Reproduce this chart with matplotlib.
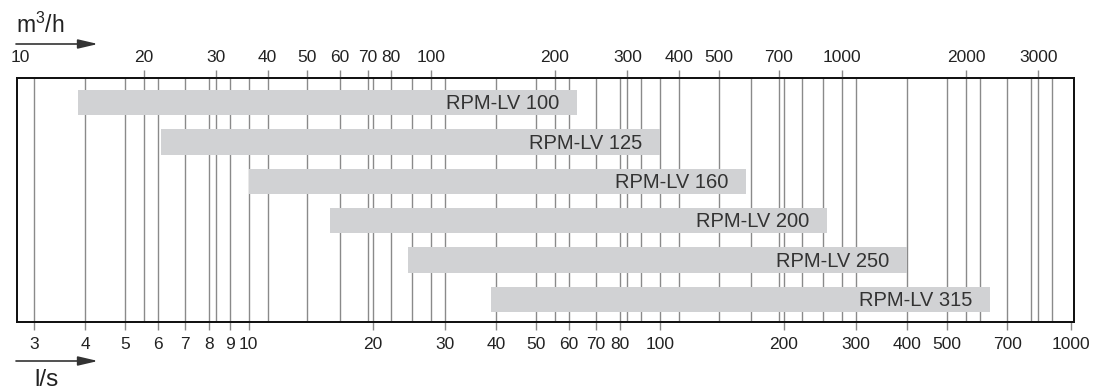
import matplotlib
matplotlib.use("Agg")
import matplotlib.pyplot as plt
from matplotlib.patches import FancyArrowPatch
from matplotlib.ticker import FixedLocator, NullLocator

plt.rcParams['font.family'] = ['Liberation Sans', 'DejaVu Sans']
plt.rcParams['mathtext.fontset'] = 'custom'
plt.rcParams['mathtext.rm'] = 'Liberation Sans'
plt.rcParams['mathtext.it'] = 'Liberation Sans'

# flow ranges per fan model, in l/s
models = ['RPM-LV 100', 'RPM-LV 125', 'RPM-LV 160', 'RPM-LV 200', 'RPM-LV 250', 'RPM-LV 315']
flow_min = [3.85, 6.1, 10.0, 15.8, 24.4, 38.9]
flow_max = [63, 100, 162, 255, 400, 635]

# bottom axis (l/s)
ls_labels = [3, 4, 5, 6, 7, 8, 9, 10, 20, 30, 40, 50, 60, 70, 80, 100, 200, 300, 400, 500, 700, 1000]
ls_grid = [3, 4, 5, 6, 7, 8, 9, 10, 20, 30, 40, 50, 60, 70, 80, 90, 100,
           200, 300, 400, 500, 600, 700, 800, 900]
# top axis (m3/h)
m3h_labels = [10, 20, 30, 40, 50, 60, 70, 80, 100, 200, 300, 400, 500, 700, 1000, 2000, 3000]
m3h_grid = [20, 30, 40, 50, 60, 70, 80, 90, 100, 200, 300, 400, 500, 600, 700, 800, 900,
            1000, 2000, 3000]

xmin, xmax = 2.73, 1017
grid_col = '#8a8a8a'

fig = plt.figure(figsize=(10.96, 3.9), dpi=100)
ax = fig.add_axes([17 / 1096, 1 - 322 / 390, (1074 - 17) / 1096, (322 - 78) / 390])
ax.set_xscale('log')
ax.set_xlim(xmin, xmax)
ax.set_ylim(len(models) - 0.425, -0.625)

for v in ls_grid:
    ax.axvline(v, color=grid_col, lw=1.0, zorder=1)
for v in m3h_grid:
    ax.axvline(v / 3.6, color=grid_col, lw=1.0, zorder=1)

for i, name in enumerate(models):
    ax.barh(i, flow_max[i] - flow_min[i], left=flow_min[i], height=0.65,
            color='#d1d2d4', zorder=2)
    ax.text(flow_max[i] / 1.105, i + 0.03, name, ha='right', va='center',
            fontsize=14.5, color='#333333', zorder=3)

ax.xaxis.set_major_locator(FixedLocator(ls_labels))
ax.xaxis.set_minor_locator(NullLocator())
ax.set_xticklabels([str(v) for v in ls_labels])
ax.set_yticks([])
ax.tick_params(axis='x', direction='out', length=6, width=1, color=grid_col,
               labelsize=12.5, labelcolor='#222222', pad=5)

top = ax.twiny()
top.set_xscale('log')
top.set_xlim(xmin * 3.6, xmax * 3.6)
top.xaxis.set_major_locator(FixedLocator(m3h_labels))
top.xaxis.set_minor_locator(NullLocator())
top.set_xticklabels([str(v) for v in m3h_labels])
top.tick_params(axis='x', direction='out', length=6, width=1, color=grid_col,
                labelsize=12.5, labelcolor='#222222', pad=3)
top.xaxis.get_major_ticks()[0].tick2line.set_visible(False)

for a in (ax, top):
    for s in a.spines.values():
        s.set_linewidth(1.3)
        s.set_color('#111111')

# unit labels with arrows
fig.text(16 / 1096, 1 - 33 / 390, r'm$^{3}$/h', fontsize=16.5, color='#222222', va='baseline')
fig.text(34 / 1096, 1 - 386 / 390, 'l/s', fontsize=17.5, color='#222222', va='baseline')
for y in (44, 361):
    fig.add_artist(FancyArrowPatch(
        (16 / 1096, 1 - y / 390), (98 / 1096, 1 - y / 390),
        transform=fig.transFigure, arrowstyle='-|>,head_length=12,head_width=2.8',
        color='#333333', lw=1.2, shrinkA=0, shrinkB=0))

fig.savefig('out.png', dpi=100)
